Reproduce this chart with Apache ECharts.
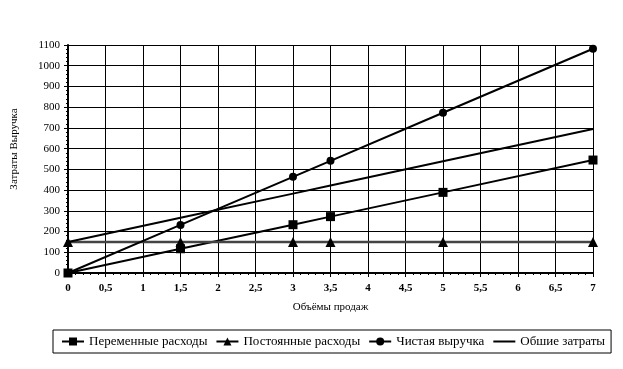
<!DOCTYPE html>
<html><head><meta charset="utf-8">
<script src="https://cdn.jsdelivr.net/npm/echarts@6/dist/echarts.min.js"></script>
<style>html,body{margin:0;padding:0;background:#fff}#c{width:623px;height:369px}</style>
</head><body><div id="c"></div>
<script>
const volumes = [0, 1.5, 3, 3.5, 5, 7];
const variableCosts = [0, 117, 233, 272, 389, 545];
const fixedCosts = [150, 150, 150, 150, 150, 150];
const netRevenue = [0, 232, 464, 541, 773, 1082];
const totalCosts = [150, 267, 383, 422, 539, 695];
const seriesNames = ['Переменные расходы', 'Постоянные расходы', 'Чистая выручка', 'Обшие затраты'];
const yTitle = 'Затраты Выручка';
const xTitle = 'Объёмы продаж';

const pairs = arr => volumes.map((v, i) => [v, arr[i]]);
const font = 'Liberation Serif, Times New Roman, serif';
const chart = echarts.init(document.getElementById('c'), null, {renderer: 'canvas'});
chart.setOption({
  animation: false,
  backgroundColor: '#fff',
  textStyle: {fontFamily: font, color: '#000'},
  grid: {left: 68, right: 30, top: 45, bottom: 96, containLabel: false},
  legend: {
    top: 330, left: 53,
    borderColor: '#000', borderWidth: 1, padding: [5, 6, 5, 8],
    itemGap: 8, itemWidth: 22, itemHeight: 10,
    textStyle: {fontFamily: font, fontSize: 13, color: '#000'},
    lineStyle: {color: '#000', width: 2},
    data: [
      {name: seriesNames[0]},
      {name: seriesNames[1]},
      {name: seriesNames[2]},
      {name: seriesNames[3], itemStyle: {color: 'rgba(0,0,0,0)', borderColor: 'rgba(0,0,0,0)', borderWidth: 0}}
    ]
  },
  xAxis: {
    type: 'value', min: 0, max: 7, interval: 0.5,
    name: xTitle, nameLocation: 'middle', nameGap: 29,
    nameTextStyle: {fontFamily: font, fontSize: 11, color: '#000'},
    axisLine: {show: true, lineStyle: {color: '#000', width: 2}},
    axisTick: {show: true, length: 4, lineStyle: {color: '#000'}},
    minorTick: {show: true, splitNumber: 5, length: 2, lineStyle: {color: '#000'}},
    axisLabel: {fontFamily: font, fontSize: 11, fontWeight: 'bold', color: '#000', margin: 10,
      formatter: v => String(v).replace('.', ',')},
    splitLine: {show: true, lineStyle: {color: '#000', width: 1}}
  },
  yAxis: {
    type: 'value', min: 0, max: 1100, interval: 100,
    name: yTitle, nameLocation: 'middle', nameGap: 48, nameRotate: 90,
    nameTextStyle: {fontFamily: font, fontSize: 11, color: '#000', padding: [0, 0, 0, 20]},
    axisLine: {show: true, lineStyle: {color: '#000', width: 2}},
    axisTick: {show: true, length: 4, lineStyle: {color: '#000'}},
    minorTick: {show: true, splitNumber: 5, length: 2, lineStyle: {color: '#000'}},
    axisLabel: {fontFamily: font, fontSize: 11, color: '#000', margin: 8, formatter: v => String(v)},
    splitLine: {show: true, lineStyle: {color: '#000', width: 1}}
  },
  series: [
    {name: seriesNames[0], type: 'line', data: pairs(variableCosts), symbol: 'rect', symbolSize: 9,
      itemStyle: {color: '#000'}, lineStyle: {color: '#000', width: 2}},
    {name: seriesNames[1], type: 'line', data: pairs(fixedCosts), symbol: 'triangle', symbolSize: 10,
      itemStyle: {color: '#000'}, lineStyle: {color: '#444', width: 2.5}},
    {name: seriesNames[2], type: 'line', data: pairs(netRevenue), symbol: 'circle', symbolSize: 8,
      itemStyle: {color: '#000'}, lineStyle: {color: '#000', width: 2}},
    {name: seriesNames[3], type: 'line', data: pairs(totalCosts), symbol: 'none',
      itemStyle: {color: '#000'}, lineStyle: {color: '#000', width: 2}}
  ]
});
</script></body></html>
